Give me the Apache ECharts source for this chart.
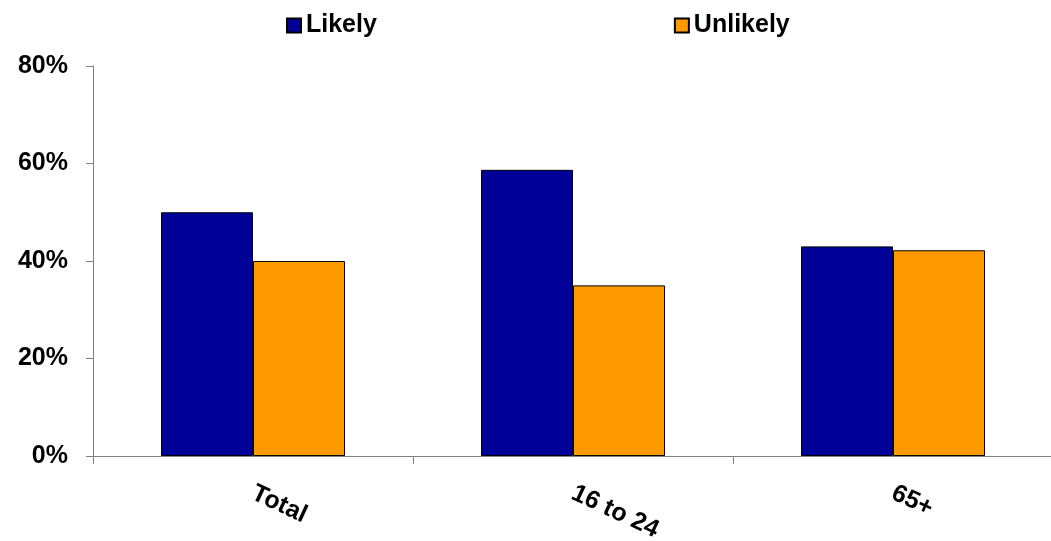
<!DOCTYPE html>
<html>
<head>
<meta charset="utf-8">
<script src="https://cdn.jsdelivr.net/npm/echarts@6/dist/echarts.min.js"></script>
<style>
html,body{margin:0;padding:0;background:#fff;}
#chart{width:1051px;height:541px;}
</style>
</head>
<body>
<div id="chart"></div>
<script>
const categories = ['Total', '16 to 24', '65+'];
const likely = [0.50, 0.587, 0.43];
const unlikely = [0.40, 0.35, 0.422];
const yTicks = [0, 0.2, 0.4, 0.6, 0.8];

const chart = echarts.init(document.getElementById('chart'));
const font = 'Liberation Sans, Arial, sans-serif';
chart.setOption({
  animation: false,
  backgroundColor: '#ffffff',
  legend: {
    left: 281,
    top: 8,
    itemWidth: 14,
    itemHeight: 14,
    itemGap: 297,
    icon: 'rect',
    textStyle: {fontFamily: font, fontWeight: 'bold', fontSize: 25, color: '#000'},
    data: ['Likely', 'Unlikely']
  },
  grid: {left: 93, right: -2, top: 66, bottom: 85, containLabel: false, outerBoundsMode: 'none'},
  xAxis: {
    type: 'category',
    data: categories,
    axisLine: {lineStyle: {color: '#808080', width: 1}},
    axisTick: {show: true, length: 8, lineStyle: {color: '#808080'}},
    axisLabel: {
      rotate: -25,
      margin: 36,
      fontFamily: font, fontWeight: 'bold', fontSize: 25, color: '#000'
    }
  },
  yAxis: {
    type: 'value',
    min: yTicks[0],
    max: yTicks[yTicks.length - 1],
    interval: 0.2,
    axisLine: {show: true, lineStyle: {color: '#808080', width: 1}},
    axisTick: {show: true, length: 7, lineStyle: {color: '#808080'}},
    splitLine: {show: false},
    axisLabel: {
      margin: 25,
      fontFamily: font, fontWeight: 'bold', fontSize: 25, color: '#000',
      formatter: v => Math.round(v * 100) + '%'
    }
  },
  series: [
    {
      name: 'Likely', type: 'bar', data: likely,
      barGap: '0%', barCategoryGap: '42.5%',
      itemStyle: {color: '#000099', borderColor: '#000', borderWidth: 1}
    },
    {
      name: 'Unlikely', type: 'bar', data: unlikely,
      barGap: '0%', barCategoryGap: '42.5%',
      itemStyle: {color: '#FF9900', borderColor: '#000', borderWidth: 1}
    }
  ]
});
</script>
</body>
</html>
